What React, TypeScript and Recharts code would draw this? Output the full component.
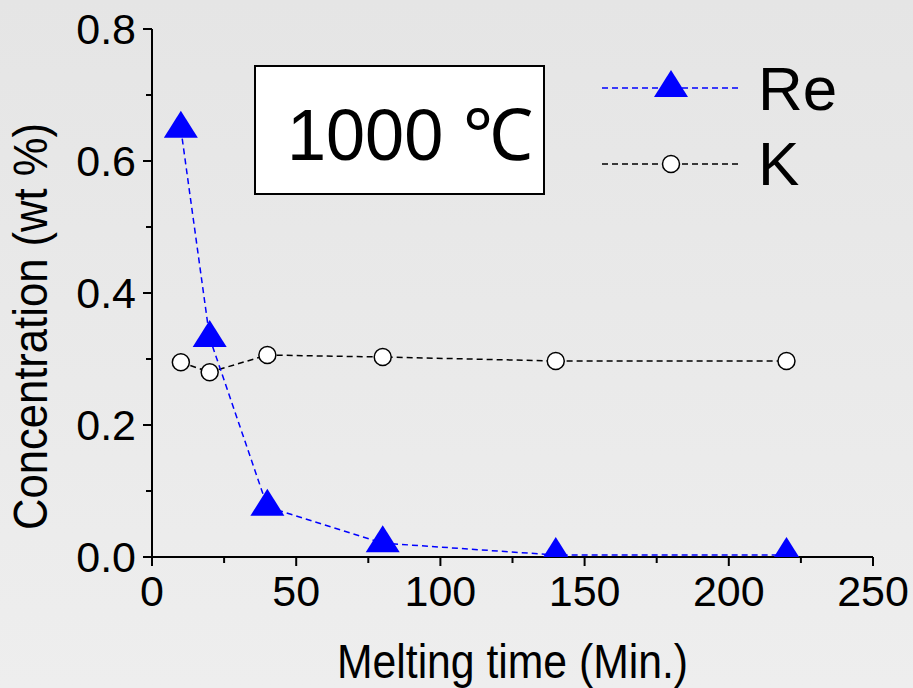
import React from 'react';
import { LineChart, Line, XAxis, YAxis, Label } from 'recharts';

const times = [10, 20, 40, 80, 140, 220];
const reValues = [0.649, 0.332, 0.076, 0.021, 0.003, 0.003];
const kValues = [0.295, 0.28, 0.306, 0.303, 0.297, 0.297];
const xTicks = [0, 25, 50, 75, 100, 125, 150, 175, 200, 225, 250];
const xMajor = [0, 50, 100, 150, 200, 250];
const yTicks = [0, 0.1, 0.2, 0.3, 0.4, 0.5, 0.6, 0.7, 0.8];
const yMajor = [0, 0.2, 0.4, 0.6, 0.8];
const seriesNames = ['Re', 'K'];
const titleText = '1000 ℃';
const xTitle = 'Melting time (Min.)';
const yTitle = 'Concentration (wt %)';

const data = times.map((t, i) => ({ t, re: reValues[i], k: kValues[i] }));

const FONT = '"Liberation Sans", Arial, sans-serif';
const PLOT_BOTTOM = 557;

const isMajor = (list: number[], v: number) => list.some((m) => Math.abs(m - v) < 1e-9);

const XTick = (props: any) => {
  const { x, y, payload } = props;
  const major = isMajor(xMajor, payload.value);
  return (
    <g>
      <line x1={x} x2={x} y1={y} y2={y + (major ? 9 : 6)} stroke="#000" strokeWidth={2} />
      {major && (
        <text x={x} y={y + 49} textAnchor="middle" fontSize={43} fontFamily={FONT} fill="#000">
          {payload.value}
        </text>
      )}
    </g>
  );
};

const YTick = (props: any) => {
  const { x, y, payload } = props;
  const major = isMajor(yMajor, payload.value);
  return (
    <g>
      <line x1={x} x2={x - (major ? 9 : 6)} y1={y} y2={y} stroke="#000" strokeWidth={2} />
      {major && (
        <text x={x - 16} y={y + 15} textAnchor="end" fontSize={43} fontFamily={FONT} fill="#000">
          {payload.value.toFixed(1)}
        </text>
      )}
    </g>
  );
};

const TopTick = (props: any) => {
  const { x, y } = props;
  return <line x1={x} x2={x} y1={y} y2={y - 3} stroke="#000" strokeWidth={2} />;
};
const RightTick = (props: any) => {
  const { x, y } = props;
  return <line x1={x} x2={x + 3} y1={y} y2={y} stroke="#000" strokeWidth={2} />;
};

// triangle anchored at its centroid, clipped at the bottom of the plot
const TriangleDot = (props: any) => {
  const { cx, cy, index } = props;
  if (cx == null || cy == null) return null;
  const w = 34;
  const h = 27;
  const apex = cy - (2 * h) / 3;
  const base = cy + h / 3;
  const cut = Math.min(base, PLOT_BOTTOM);
  const half = (w / 2) * ((cut - apex) / h);
  const pts = `${cx - half},${cut} ${cx + half},${cut} ${cx},${apex}`;
  return <polygon key={`tri-${index}`} points={pts} fill="#0000ff" stroke="none" />;
};

const CircleDot = (props: any) => {
  const { cx, cy, index } = props;
  if (cx == null || cy == null) return null;
  return <circle key={`c-${index}`} cx={cx} cy={cy} r={8.5} fill="#fff" stroke="#000" strokeWidth={1.5} />;
};

const LegendBox = () => (
  <svg
    width={280}
    height={170}
    style={{ position: 'absolute', left: 600, top: 40, display: 'block', overflow: 'visible' }}
  >
    <line x1={2} x2={140} y1={48} y2={48} stroke="#0000ff" strokeWidth={1.5} strokeDasharray="6 4" />
    <polygon points={`${54},${57} ${88},${57} ${71},${30}`} fill="#0000ff" />
    <text x={158} y={70} fontSize={62} fontFamily={FONT} fill="#000">{seriesNames[0]}</text>
    <line x1={2} x2={140} y1={124} y2={124} stroke="#000" strokeWidth={1.5} strokeDasharray="6 4" />
    <circle cx={71} cy={124} r={8.5} fill="#fff" stroke="#000" strokeWidth={1.5} />
    <text x={158} y={145} fontSize={62} fontFamily={FONT} fill="#000">{seriesNames[1]}</text>
  </svg>
);

const TitleBox = () => (
  <svg width={291} height={130} style={{ position: 'absolute', left: 254, top: 65, display: 'block' }}>
    <rect x={1} y={1} width={289} height={128} fill="#fff" stroke="#000" strokeWidth={2} />
    <text
      x={33}
      y={95}
      fontSize={72}
      fontFamily={FONT}
      fill="#000"
      textLength={246}
      lengthAdjust="spacingAndGlyphs"
    >
      {titleText}
    </text>
  </svg>
);

export default function App() {
  return (
    <div
      style={{
        position: 'absolute',
        left: 0,
        top: 0,
        width: 913,
        height: 688,
        background: 'linear-gradient(to bottom, #e5e5e5, #eeeeee)',
      }}
    >
      <LineChart width={913} height={688} data={data} margin={{ top: 29, right: 40, left: 0, bottom: 0 }}>
        <XAxis
          dataKey="t"
          type="number"
          domain={[0, 250]}
          ticks={xTicks}
          interval={0}
          tickSize={0}
          tickMargin={0}
          tick={<XTick />}
          height={131}
          axisLine={{ stroke: '#000', strokeWidth: 2 }}
          tickLine={false}
        >
          <Label
            content={() => (
              <text
                x={337}
                y={678}
                fontSize={48}
                fontFamily={FONT}
                fill="#000"
                textLength={351}
                lengthAdjust="spacingAndGlyphs"
              >
                {xTitle}
              </text>
            )}
          />
        </XAxis>
        <XAxis
          xAxisId="top"
          orientation="top"
          dataKey="t"
          type="number"
          domain={[0, 250]}
          ticks={xTicks}
          interval={0}
          tickSize={0}
          tickMargin={0}
          tick={<TopTick />}
          height={0}
          axisLine={{ stroke: '#000', strokeWidth: 2 }}
          tickLine={false}
        />
        <YAxis
          type="number"
          domain={[0, 0.8]}
          ticks={yTicks}
          interval={0}
          tickSize={0}
          tickMargin={0}
          tick={<YTick />}
          width={152}
          axisLine={{ stroke: '#000', strokeWidth: 2 }}
          tickLine={false}
        >
          <Label
            content={() => (
              <text
                x={0}
                y={0}
                transform="translate(47, 530) rotate(-90)"
                fontSize={48}
                fontFamily={FONT}
                fill="#000"
                textLength={407}
                lengthAdjust="spacingAndGlyphs"
              >
                {yTitle}
              </text>
            )}
          />
        </YAxis>
        <YAxis
          yAxisId="right"
          orientation="right"
          type="number"
          domain={[0, 0.8]}
          ticks={yTicks}
          interval={0}
          tickSize={0}
          tickMargin={0}
          tick={<RightTick />}
          width={0}
          axisLine={{ stroke: '#000', strokeWidth: 2 }}
          tickLine={false}
        />
        <Line
          dataKey="k"
          name={seriesNames[1]}
          stroke="#000"
          strokeWidth={1.5}
          strokeDasharray="6 4"
          dot={<CircleDot />}
          activeDot={false}
          isAnimationActive={false}
        />
        <Line
          dataKey="re"
          name={seriesNames[0]}
          stroke="#0000ff"
          strokeWidth={1.5}
          strokeDasharray="6 4"
          dot={<TriangleDot />}
          activeDot={false}
          isAnimationActive={false}
        />
      </LineChart>
      <LegendBox />
      <TitleBox />
    </div>
  );
}
